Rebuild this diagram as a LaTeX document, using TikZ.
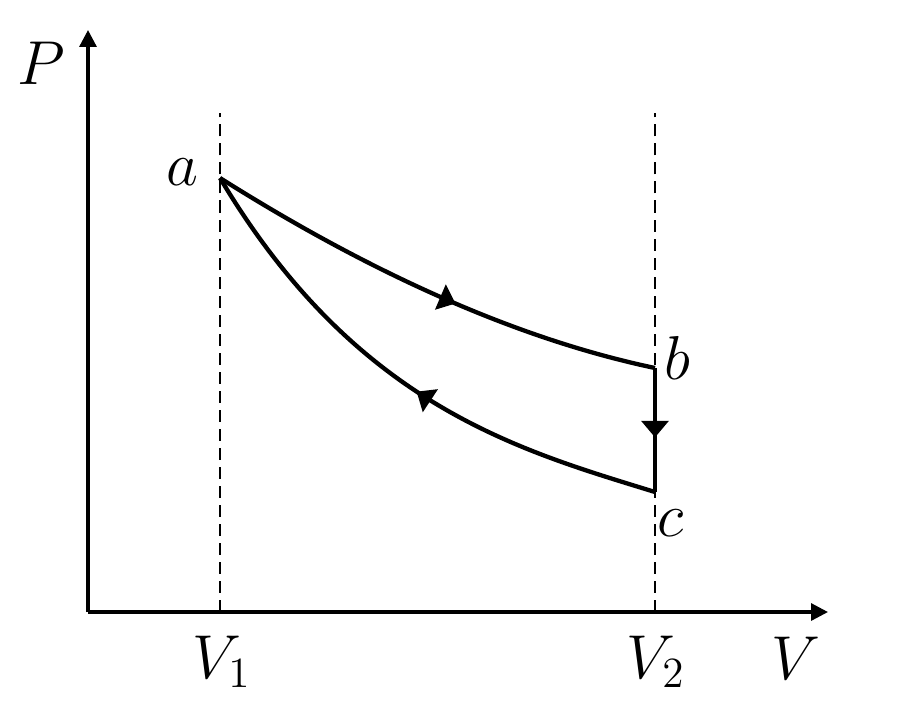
\documentclass[tikz,border=0pt]{standalone}
\usetikzlibrary{arrows.meta,decorations.markings}

\tikzset{
  axis/.style={line width=0.9pt,-{Triangle[length=4.7pt,width=4.7pt]}},
  guide/.style={line width=0.55pt,dash pattern=on 3.35pt off 1.95pt},
  process/.style={line width=1.2pt},
  midarrow/.style={postaction={decorate},
    decoration={markings,mark=at position #1 with {\arrow{Triangle[length=4.6pt,width=7.4pt]}}}},
  lbl/.style={inner sep=0pt},
}

\begin{document}
\begin{tikzpicture}[x=0.2786pt,y=-0.2786pt,font=\fontsize{17.28}{20}\selectfont]
            \useasboundingbox (0,0) rectangle (900,708);

            % States of the cycle and axis ends
            \coordinate (O) at (88,612);
            \coordinate (Ptop) at (88,30);
            \coordinate (Vend) at (828,612);
            \coordinate (a) at (220,178);
            \coordinate (b) at (655,368);
            \coordinate (c) at (655,492);
            \coordinate (V1foot) at (220,612);
            \coordinate (V1top) at (220,113);
            \coordinate (V2foot) at (655,612);
            \coordinate (V2top) at (655,113);

            % Draw the axes
            \draw[axis] (O) -- (Ptop);
            \draw[axis] (O) -- (Vend);

            % Volume guides
            \draw[guide] (V1foot) -- (V1top);
            \draw[guide] (V2foot) -- (V2top);

            % The cycle a -> b -> c -> a
            \draw[process,midarrow=0.56] (a) .. controls (377,277) and (522,340) .. (b);
            \draw[process,midarrow=0.56] (b) -- (c);
            \draw[process,midarrow=0.47] (c) .. controls (519,450) and (356,406) .. (a);

            \node[lbl] (Plabel) at (41,63) {$P$};
            \node[lbl] (Vlabel) at (796,658) {$V$};
            \node[lbl] (V1label) at (222,662) {$V_1$};
            \node[lbl] (V2label) at (656,662) {$V_2$};
            \node[lbl] (alabel) at (182,172) {$a$};
            \node[lbl] (blabel) at (677,358) {$b$};
            \node[lbl] (clabel) at (671,523) {$c$};
          \end{tikzpicture}
\end{document}
